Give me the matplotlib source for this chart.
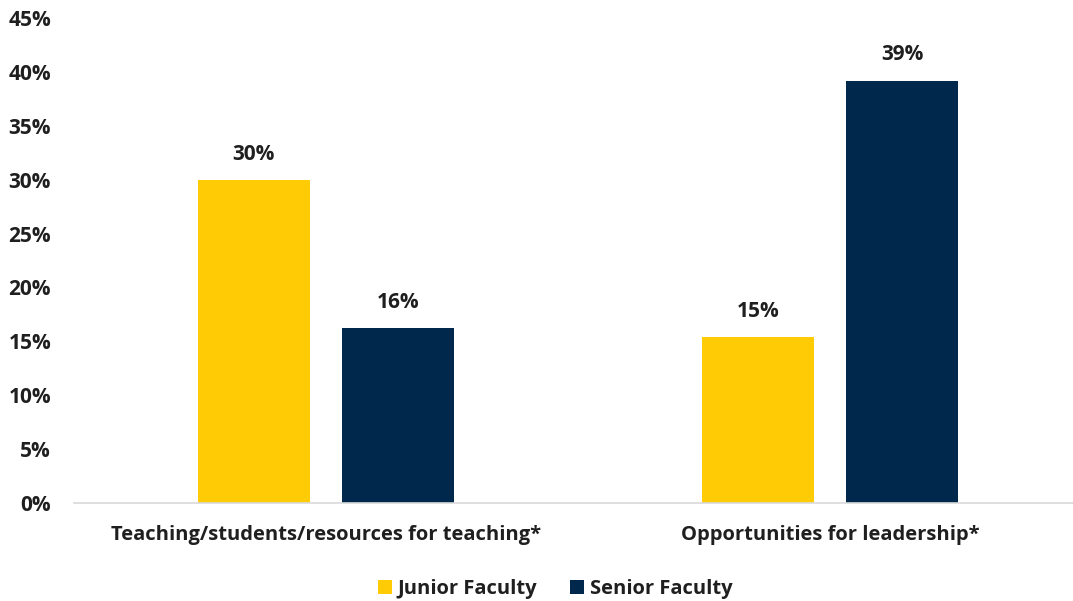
import numpy as np
import matplotlib
matplotlib.use("Agg")
import matplotlib.pyplot as plt
from matplotlib.ticker import PercentFormatter

categories = ["Teaching/students/resources for teaching*", "Opportunities for leadership*"]
junior = [30.0, 15.4]
senior = [16.2, 39.2]
series_names = ["Junior Faculty", "Senior Faculty"]

yellow = "#FFCB05"
navy = "#00274C"
txt = "#1f1f1f"

plt.rcParams["font.family"] = ["Open Sans", "DejaVu Sans"]
plt.rcParams["font.weight"] = "bold"

fig = plt.figure(figsize=(10.73, 6.01), dpi=100)
ax = fig.add_axes([74/1073, 98/601, 1008/1073, 485/601])

x = np.arange(len(categories))
w = 0.222
off = 0.143
b1 = ax.bar(x - off, junior, w, color=yellow, label=series_names[0])
b2 = ax.bar(x + off, senior, w, color=navy, label=series_names[1])

for bars in (b1, b2):
    for b in bars:
        ax.text(b.get_x() + b.get_width()/2, b.get_height() + 1.4, f"{b.get_height():.0f}%",
                ha="center", va="bottom", fontsize=15, fontweight="bold", color=txt)

ax.set_xlim(-0.5, 1.5)
ax.set_ylim(0, 45)
ax.set_yticks(np.arange(0, 46, 5))
ax.yaxis.set_major_formatter(PercentFormatter(decimals=0))
ax.set_xticks(x)
ax.set_xticklabels(categories)
ax.tick_params(axis="y", length=0, labelsize=15, colors=txt, pad=16.5)
ax.tick_params(axis="x", length=0, labelsize=14.5, colors=txt, pad=15.5)
for lbl in ax.get_xticklabels() + ax.get_yticklabels():
    lbl.set_fontweight("bold")

for s in ["top", "right", "left"]:
    ax.spines[s].set_visible(False)
ax.spines["bottom"].set_color("#d9d9d9")
ax.spines["bottom"].set_linewidth(1.2)

fig.legend(loc="center", bbox_to_anchor=(555/1073, 12/601), ncol=2, frameon=False,
           prop={"size": 14.5, "weight": "bold"}, handlelength=0.7, handleheight=0.7,
           handletextpad=0.3, columnspacing=1.6, labelcolor=txt)

fig.savefig("out.png", dpi=100)
